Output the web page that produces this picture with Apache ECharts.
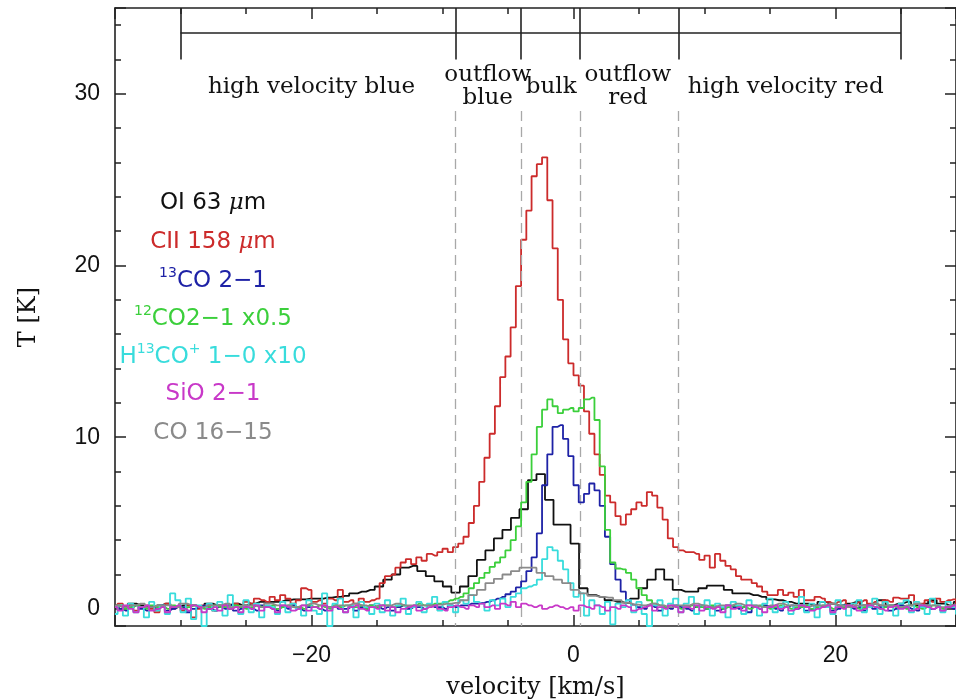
<!DOCTYPE html>
<html><head><meta charset="utf-8">
<script src="https://cdn.jsdelivr.net/npm/echarts@6/dist/echarts.min.js"></script>
<style>html,body{margin:0;padding:0;background:#fff}#c{width:956px;height:700px}</style>
</head><body><div id="c"></div>
<script>
// ---- channel grids (start velocity, channel width in km/s) ----
const fineStart = -35, fineWidth = 0.4;     // CII, 13CO, 12CO, H13CO+, SiO
const coarseStart = -35, coarseWidth = 0.65; // OI, CO 16-15

// ---- spectra (T in K) ----
const ciiT = [0.1,0.3,0.0,0.2,-0.1,0.1,0.2,0.0,-0.2,0.1,0.3,0.0,0.1,-0.1,0.2,-0.5,0.0,0.2,0.1,-0.1,
  0.1,0.2,0.0,0.3,0.1,
  0.4,0.3,0.6,0.5,0.4,0.7,0.5,0.8,0.6,
  0.3,0.5,1.2,1.1,0.4,0.5,0.3,0.6,0.5,1.1,0.4,0.5,0.3,0.6,0.4,0.5,0.6,
  1.5,1.9,2.0,2.4,2.7,2.9,2.6,3.0,2.8,3.2,3.1,3.3,3.5,3.3,3.6,3.8,
  4.2,5.0,6.0,7.4,8.8,10.2,11.8,13.5,14.7,16.4,18.8,
  21.5,23.2,25.2,25.9,26.3,23.8,21.0,18.0,15.7,14.3,
  13.6,13.0,11.5,10.2,9.0,7.8,6.6,6.2,5.4,4.9,
  5.5,5.8,6.2,6.0,6.8,6.6,5.9,5.2,4.1,3.6,
  3.4,3.3,3.3,3.2,2.85,3.1,2.4,3.2,2.8,2.5,
  2.3,1.9,1.7,1.7,1.5,1.3,1.0,0.8,0.8,1.1,
  0.8,0.95,0.7,1.1,0.5,0.5,0.7,0.6,0.4,0.3,
  0.4,0.5,0.2,0.3,0.4,0.5,0.3,0.4,0.2,0.5,
  0.4,0.65,0.6,0.6,0.8,0.3,0.3,0.5,0.4,0.6,
  0.4,0.5,0.55,0.3,0.4];

const oiT = [0.2,0.1,0.3,0.2,0.1,0.2,0.3,0.1,0.2,0.2,0.1,0.3,0.2,0.2,0.3,0.2,0.3,0.4,0.4,0.4,
  0.5,0.55,0.55,0.6,0.6,0.65,0.7,0.75,0.9,1.0,1.1,1.3,1.7,2.0,2.4,2.5,2.2,1.9,1.6,1.3,
  0.95,1.3,1.9,2.85,3.4,4.1,4.6,5.3,5.8,7.5,7.85,6.35,4.9,4.9,3.8,1.2,0.8,0.7,0.5,0.4,
  0.35,0.6,1.2,1.7,2.3,1.7,1.1,1.0,1.0,1.2,1.35,1.35,1.1,0.9,0.9,0.8,0.7,0.55,0.5,0.4,
  0.3,0.3,0.2,0.4,0.3,0.2,0.3,0.4,0.2,0.3,0.5,0.2,0.3,0.4,0.2,0.3,0.5,0.3,0.2,0.4,0.3];

const co13T = [0.1,0.0,-0.1,0.1,0.2,0.0,-0.1,0.1,0.0,0.2,
  -0.1,0.0,0.1,0.1,-0.2,0.0,0.1,0.2,0.0,-0.1,
  0.1,0.0,0.2,-0.1,0.0,0.1,0.0,-0.1,0.2,0.1,
  0.0,-0.1,0.1,0.0,0.2,0.0,-0.1,0.1,0.1,0.0,
  -0.1,0.1,0.2,0.0,0.0,0.1,-0.1,0.1,0.0,0.2,
  0.1,0.0,0.1,-0.1,0.1,0.2,0.0,0.1,0.1,0.0,
  0.2,0.1,0.1,0.0,0.2,0.1,0.2,0.2,0.3,
  0.3,0.35,0.4,0.5,0.6,0.7,0.85,1.0,1.25,1.6,2.2,3.0,4.4,7.2,9.0,10.6,10.7,9.9,8.9,7.2,
  6.2,6.7,7.3,6.9,6.0,4.2,2.6,1.7,1.0,0.5,0.25,
  0.1,0.0,0.2,0.1,-0.1,0.1,0.0,0.2,0.1,0.0,
  -0.1,0.1,0.2,0.0,0.1,-0.1,0.0,0.2,0.1,0.0,
  0.1,-0.2,0.1,0.0,0.2,0.1,0.0,-0.1,0.1,0.2,
  0.0,0.1,-0.1,0.0,0.2,0.1,0.1,-0.1,0.0,0.2,
  0.1,0.0,0.1,-0.1,0.2,0.0,0.1,0.1,-0.1,0.0,
  0.2,0.1,0.0,-0.1,0.1,0.2,0.0,0.1,-0.1,0.1,
  0.0,0.2,0.1];

const co12T = [0.1,0.2,0.0,0.1,0.2,0.1,0.0,0.2,0.1,0.1,
  0.0,0.2,0.1,0.0,0.1,0.2,0.1,0.0,0.1,0.2,
  0.1,0.1,0.0,0.2,0.1,0.0,0.1,0.2,0.1,0.1,
  0.2,0.0,0.1,0.2,0.1,0.1,0.0,0.2,0.1,0.2,
  0.1,0.0,0.2,0.1,0.2,0.1,0.1,0.2,0.0,0.2,
  0.1,0.2,0.2,0.1,0.2,0.2,0.1,0.2,0.3,0.2,
  0.2,0.3,
  0.3,0.4,0.5,0.6,0.7,0.9,1.2,1.5,1.8,2.1,2.45,2.7,3.0,3.4,4.0,4.8,6.2,7.4,9.0,10.6,11.6,
  12.2,11.8,11.4,11.6,11.7,11.5,11.7,12.2,12.3,11.0,8.3,4.6,2.7,2.35,2.3,2.1,1.7,1.2,0.8,0.5,0.3,0.2,
  0.1,0.2,0.1,0.0,0.1,0.2,0.1,0.1,0.0,0.2,
  0.1,0.0,0.1,0.2,0.1,0.1,0.0,0.1,0.2,0.1,
  0.0,0.1,0.2,0.1,0.0,0.1,0.1,0.2,0.0,0.1,
  0.2,0.1,0.0,0.1,0.1,0.2,0.1,0.0,0.1,0.2,
  0.1,0.0,0.1,0.2,0.1,0.1,0.0,0.2,0.1,0.0,
  0.1,0.2,0.1,0.0,0.1,0.2,0.1,0.1];

const h13coT = [-0.3,0.2,-0.4,0.3,-0.2,0.1,-0.5,0.4,-0.1,0.2,
  -0.3,0.9,0.5,-0.2,0.6,-0.6,0.2,-1.0,0.3,-0.1,
  0.4,-0.4,0.8,0.1,-0.3,0.5,-0.2,0.3,-0.5,0.2,
  0.1,-0.3,0.4,-0.2,0.3,0.0,-0.4,0.5,-0.1,-0.3,
  0.9,-1.0,0.3,0.6,-0.2,0.2,-0.5,0.4,0.1,-0.3,
  0.3,-0.2,0.5,-0.4,0.2,0.6,-0.3,0.1,0.4,-0.2,
  0.3,0.7,-0.1,0.4,0.2,-0.2,0.5,0.3,0.8,0.4,
  0.3,-0.1,0.5,0.2,0.6,0.1,0.7,0.9,1.2,1.3,
  1.4,1.7,2.9,3.6,3.4,2.8,2.3,1.5,0.7,0.9,
  -0.4,0.5,0.2,-0.3,0.4,-0.9,0.3,0.1,0.5,-0.2,
  0.4,-0.3,-1.0,0.2,0.5,-0.4,0.3,0.6,-0.2,0.3,
  0.7,-0.3,0.2,0.5,-0.4,0.3,0.1,-0.5,0.4,0.2,
  -0.3,0.5,0.2,-0.4,0.3,0.6,-0.2,0.1,0.4,-0.3,
  0.2,0.7,-0.2,0.3,-0.5,0.4,0.1,-0.3,0.5,0.2,
  -0.4,0.3,0.5,-0.2,0.1,0.6,-0.3,0.4,0.2,-0.4,
  0.3,0.5,-0.2,0.4,0.1,-0.3,0.6,0.2,-0.2,0.4,
  0.1,-0.3,0.3];

const sioT = [0.1,-0.1,0.2,0.0,-0.2,0.1,0.2,-0.1,0.0,0.1,-0.2,0.1,0.2,0.0,-0.1,0.2,0.1,-0.2,0.0,0.1,
  -0.1,0.2,0.0,0.1,-0.2,0.1,0.0,0.2,-0.1,0.1,0.0,-0.2,0.2,0.1,-0.1,0.0,0.2,-0.1,0.1,0.0,
  0.2,-0.1,0.1,0.0,-0.2,0.1,0.2,0.0,-0.1,0.1,0.0,0.2,-0.1,0.1,-0.2,0.0,0.1,0.2,-0.1,0.0,
  0.1,0.2,0.0,-0.1,0.1,0.2,0.1,0.0,0.2,0.1,0.3,0.1,0.2,0.0,0.3,0.2,0.4,0.1,0.3,0.2,
  0.1,0.2,0.0,0.1,0.2,0.1,0.0,0.1,-0.1,0.2,0.1,0.0,0.2,0.1,-0.1,0.1,0.0,0.2,0.1,-0.1,
  0.0,0.1,0.2,-0.1,0.1,0.0,0.2,0.1,-0.2,0.1,0.0,0.2,-0.1,0.1,0.0,0.1,-0.2,0.2,0.0,0.1,
  -0.1,0.2,0.1,0.0,-0.2,0.1,0.2,0.0,0.1,-0.1,0.0,0.2,0.1,-0.1,0.0,0.1,0.2,-0.2,0.1,0.0,
  0.2,0.1,-0.1,0.0,0.2,0.1,0.0,-0.1,0.1,0.2,0.0,0.1,-0.1,0.0,0.2,0.1,0.0,0.1,-0.1,0.1,
  0.2,0.0,0.1];

const co1615T = [0.2,0.1,0.2,0.3,0.1,0.2,0.2,0.1,0.3,0.2,
  0.1,0.2,0.2,0.3,0.1,0.2,0.2,0.1,0.3,0.2,
  0.2,0.1,0.2,0.3,0.2,0.1,0.2,0.2,0.3,0.2,
  0.1,0.2,0.2,0.3,0.2,0.2,0.2,0.2,
  0.25,0.3,0.35,0.5,0.8,1.1,1.5,1.75,2.0,2.2,2.4,2.4,2.1,1.9,1.7,1.5,1.1,0.9,0.75,0.7,0.65,0.5,0.35,0.25,
  0.2,0.3,0.2,0.1,0.2,0.2,0.3,0.2,0.1,0.2,
  0.2,0.3,0.2,0.2,0.1,0.2,0.3,0.2,0.2,0.1,
  0.2,0.2,0.3,0.2,0.1,0.2,0.2,0.3,0.2,0.2,
  0.1,0.2,0.3,0.2,0.2,0.1,0.2,0.2,0.3];

// ---- annotations ----
const regionBounds = [-30, -9, -4, 0.5, 8, 25];
const dashedBounds = [-9, -4, 0.5, 8];
const regionNames = ['high velocity blue', 'outflow\nblue', 'bulk', 'outflow\nred', 'high velocity red'];
const regionCenters = [-20, -6.55, -1.7, 4.15, 16.2];
const xTickLabels = [-20, 0, 20];
const yTickLabels = [0, 10, 20, 30];

function toPairs(start, width, arr) {
  return arr.map((t, i) => [Math.round((start + width * i) * 100) / 100, t]);
}

const chart = echarts.init(document.getElementById('c'), null, {renderer: 'canvas'});
const axisColor = '#222';
const tickFont = {fontFamily: 'Liberation Sans', fontSize: 23, color: '#111'};

function xAx(pos, labels) {
  return {
    type: 'value', position: pos, min: -35, max: 29.2, minInterval: 20, maxInterval: 20,
    axisLine: {show: true, onZero: false, lineStyle: {color: axisColor, width: 1.6}},
    axisTick: {show: true, inside: true, length: 11, lineStyle: {color: axisColor, width: 1.5}},
    minorTick: {show: true, splitNumber: 4, length: 6, lineStyle: {color: axisColor, width: 1.5}},
    splitLine: {show: false}, minorSplitLine: {show: false},
    axisLabel: labels ? Object.assign({
      show: true, margin: 18, showMinLabel: false, showMaxLabel: false,
      formatter: v => xTickLabels.indexOf(v) >= 0 ? (v < 0 ? '\u2212' + (-v) : String(v)) : ''
    }, tickFont) : {show: false},
    name: labels ? 'velocity [km/s]' : '', nameLocation: 'middle', nameGap: 50,
    nameTextStyle: {fontFamily: 'DejaVu Serif', fontSize: 24, color: '#111'}
  };
}
function yAx(pos, labels) {
  return {
    type: 'value', position: pos, min: -1, max: 35, minInterval: 10, maxInterval: 10,
    axisLine: {show: true, onZero: false, lineStyle: {color: axisColor, width: 1.6}},
    axisTick: {show: true, inside: true, length: 11, lineStyle: {color: axisColor, width: 1.5}},
    minorTick: {show: true, splitNumber: 5, length: 6, lineStyle: {color: axisColor, width: 1.5}},
    splitLine: {show: false}, minorSplitLine: {show: false},
    axisLabel: labels ? Object.assign({
      show: true, margin: 15, showMinLabel: false, showMaxLabel: false,
      formatter: v => yTickLabels.indexOf(v) >= 0 ? String(v) : ''
    }, tickFont) : {show: false},
    name: labels ? 'T [K]' : '', nameLocation: 'middle', nameGap: 74, nameRotate: 90,
    nameTextStyle: {fontFamily: 'DejaVu Serif', fontSize: 24, color: '#111'}
  };
}

function spec(name, color, start, width, arr, z) {
  return {
    name, type: 'line', step: 'middle', showSymbol: false, symbol: 'none', silent: true, z: z,
    data: toPairs(start, width, arr), clip: true,
    lineStyle: {color, width: 1.8}, itemStyle: {color}
  };
}

const seriesColors = {
  oi: '#111111', cii: '#cc2b2b', co13: '#1e22a6', co12: '#3bcf3b', h13co: '#38dcdc', sio: '#c838c8', co1615: '#8a8a8a'
};

const bracketLines = [[{coord: [regionBounds[0], 33.55]}, {coord: [regionBounds[regionBounds.length - 1], 33.55]}]]
  .concat(regionBounds.map(b => [{coord: [b, 35]}, {coord: [b, 32]}]));
const dashLines = dashedBounds.map(b => [{coord: [b, 29]}, {coord: [b, -1]}]);

const option = {
  animation: false,
  backgroundColor: '#fff',
  grid: {left: 115, top: 8, right: 0, bottom: 74, containLabel: false, outerBoundsMode: 'none'},
  xAxis: [xAx('bottom', true), xAx('top', false)],
  yAxis: [yAx('left', true), yAx('right', false)],
  series: [
    spec('OI 63 µm', seriesColors.oi, coarseStart, coarseWidth, oiT, 3),
    spec('CII 158 µm', seriesColors.cii, fineStart, fineWidth, ciiT, 4),
    spec('13CO 2-1', seriesColors.co13, fineStart, fineWidth, co13T, 5),
    spec('12CO 2-1 x0.5', seriesColors.co12, fineStart, fineWidth, co12T, 5),
    spec('H13CO+ 1-0 x10', seriesColors.h13co, fineStart, fineWidth, h13coT, 6),
    spec('SiO 2-1', seriesColors.sio, fineStart, fineWidth, sioT, 7),
    spec('CO 16-15', seriesColors.co1615, coarseStart, coarseWidth, co1615T, 6),
    {
      name: 'regions', type: 'line', data: [], silent: true, z: 8,
      markLine: {silent: true, symbol: 'none', animation: false, label: {show: false},
        lineStyle: {color: '#222', width: 1.6, type: 'solid', opacity: 1}, data: bracketLines}
    },
    {
      name: 'dividers', type: 'line', data: [], silent: true, z: 1,
      markLine: {silent: true, symbol: 'none', animation: false, label: {show: false},
        lineStyle: {color: '#a8a8a8', width: 1.3, type: [10, 6], opacity: 1}, data: dashLines}
    },
    {
      name: 'regionLabels', type: 'scatter', symbolSize: 0, silent: true, z: 9,
      itemStyle: {opacity: 1},
      data: regionNames.map((n, i) => ({name: n, value: [regionCenters[i], 30.4]})),
      label: {show: true, position: 'inside', formatter: '{b}', fontFamily: 'DejaVu Serif', fontSize: 23,
        lineHeight: 23, color: '#111', opacity: 1, textBorderWidth: 0}
    }
  ],
  graphic: (function () {
    const rich = {
      sup: {fontSize: 14, lineHeight: 16, verticalAlign: 'top', fontFamily: 'DejaVu Sans'},
      it: {fontStyle: 'italic', fontFamily: 'DejaVu Serif', fontSize: 23}
    };
    const items = [
      ['OI 63 {it|\u03bc}m', seriesColors.oi, 203],
      ['CII 158 {it|\u03bc}m', seriesColors.cii, 242],
      ['{sup|13}CO 2\u22121', seriesColors.co13, 281],
      ['{sup|12}CO2\u22121 x0.5', seriesColors.co12, 319],
      ['H{sup|13}CO{sup|+} 1\u22120 x10', seriesColors.h13co, 357],
      ['SiO 2\u22121', seriesColors.sio, 394],
      ['CO 16\u221215', seriesColors.co1615, 433]
    ];
    return items.map(it => ({
      type: 'text', x: 213, y: it[2], z: 20, silent: true,
      style: {text: it[0], fill: it[1], fontFamily: 'DejaVu Sans', fontSize: 23, lineHeight: 30,
        align: 'center', verticalAlign: 'middle', rich: JSON.parse(JSON.stringify(rich))}
    }));
  })()
};
chart.setOption(option);
</script>
</body></html>
